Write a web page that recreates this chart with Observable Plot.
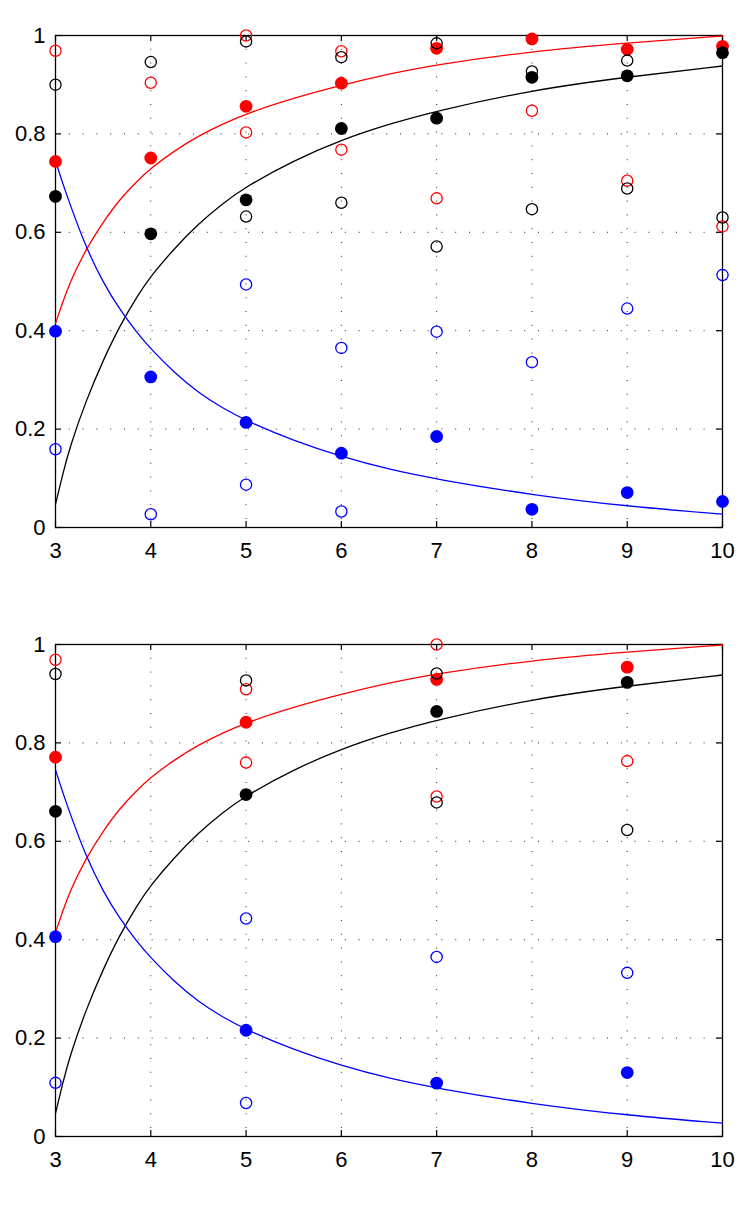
<!DOCTYPE html>
<html>
<head>
<meta charset="utf-8">
<script src="https://cdn.jsdelivr.net/npm/d3@7"></script>
<script src="https://cdn.jsdelivr.net/npm/@observablehq/plot@0.6"></script>
<style>
  html, body { margin: 0; padding: 0; background: #fff; }
  svg { display: block; }
</style>
</head>
<body>
<div id="chart"></div>
<script>
// ---- axes ----
const xTicks = [3, 4, 5, 6, 7, 8, 9, 10];
const yTicks = [0, 0.2, 0.4, 0.6, 0.8, 1];
const yTickLabels = ["0", "0.2", "0.4", "0.6", "0.8", "1"];

// ---- fitted curves ----
const curveX     = [3, 3.08, 3.15, 3.32, 3.5, 3.67, 3.85, 4, 4.25, 4.5, 4.75, 5, 5.5, 6, 6.5, 7, 8, 9, 10];
const redCurve   = [0.415, 0.460, 0.498, 0.566, 0.621, 0.666, 0.703, 0.730, 0.766, 0.796, 0.820, 0.841, 0.873, 0.899, 0.922, 0.941, 0.968, 0.985, 0.999];
const blackCurve = [0.047, 0.112, 0.163, 0.258, 0.340, 0.408, 0.468, 0.511, 0.568, 0.617, 0.658, 0.693, 0.746, 0.788, 0.820, 0.847, 0.889, 0.916, 0.938];
const blueCurve  = [0.745, 0.697, 0.658, 0.569, 0.498, 0.444, 0.397, 0.363, 0.314, 0.274, 0.243, 0.217, 0.176, 0.144, 0.118, 0.098, 0.066, 0.043, 0.027];

// ---- top panel ----
const topFilledX     = [3, 4, 5, 6, 7, 8, 9, 10];
const topRedFilled   = [0.744, 0.751, 0.856, 0.903, 0.974, 0.993, 0.972, 0.978];
const topBlackFilled = [0.673, 0.597, 0.666, 0.811, 0.832, 0.915, 0.918, 0.965];
const topBlueFilled  = [0.399, 0.306, 0.2135, 0.151, 0.185, 0.037, 0.071, 0.053];
const topRedOpenX    = [3, 4, 5, 5, 6, 6, 7, 8, 9, 10];
const topRedOpenY    = [0.969, 0.904, 1.0, 0.803, 0.968, 0.768, 0.669, 0.847, 0.705, 0.612];
const topBlackOpenX  = [3, 4, 5, 5, 6, 6, 7, 7, 8, 8, 9, 9, 10];
const topBlackOpenY  = [0.900, 0.946, 0.988, 0.632, 0.956, 0.660, 0.984, 0.571, 0.927, 0.647, 0.949, 0.689, 0.630];
const topBlueOpenX   = [3, 4, 5, 5, 6, 6, 7, 8, 9, 10];
const topBlueOpenY   = [0.159, 0.027, 0.494, 0.087, 0.365, 0.0325, 0.398, 0.336, 0.445, 0.513];

// ---- bottom panel ----
const botFilledX     = [3, 5, 7, 9];
const botRedFilled   = [0.771, 0.842, 0.929, 0.954];
const botBlackFilled = [0.661, 0.695, 0.864, 0.923];
const botBlueFilled  = [0.406, 0.216, 0.1085, 0.130];
const botRedOpenX    = [3, 5, 5, 7, 7, 9];
const botRedOpenY    = [0.969, 0.909, 0.760, 1.0, 0.691, 0.763];
const botBlackOpenX  = [3, 5, 7, 7, 9];
const botBlackOpenY  = [0.940, 0.927, 0.941, 0.679, 0.623];
const botBlueOpenX   = [3, 5, 5, 7, 9];
const botBlueOpenY   = [0.109, 0.443, 0.068, 0.365, 0.3326];

const RED = "#ff0000", BLACK = "#000000", BLUE = "#0000ff";

const pts = (xs, ys) => xs.map((x, i) => ({x, y: ys[i]}));

function panel(cfg) {
  const W = 747, H = cfg.height, mt = cfg.marginTop, mb = cfg.marginBottom, ml = 55, mr = 25;
  const innerH = H - mt - mb, innerW = W - ml - mr;
  const tick = 6;
  const dotsFilled = (data, c) => Plot.dot(data, {x: "x", y: "y", r: 6.4, fill: c, stroke: "none"});
  const dotsOpen = (data, c) => Plot.dot(data, {x: "x", y: "y", r: 5.6, fill: "none", stroke: c, strokeWidth: 1.3});
  const line = (ys, c) => Plot.line(pts(curveX, ys), {x: "x", y: "y", stroke: c, strokeWidth: 1.3, curve: "basis"});
  return Plot.plot({
    width: W, height: H,
    marginTop: mt, marginBottom: mb, marginLeft: ml, marginRight: mr,
    style: {fontFamily: "'Liberation Sans', Arial, Helvetica, sans-serif", fontSize: "22px", background: "#fff"},
    x: {domain: [3, 10]},
    y: {domain: [0, 1]},
    marks: [
      Plot.gridX(xTicks, {stroke: "#000", strokeOpacity: 0.85, strokeWidth: 1, strokeDasharray: "1,12.8"}),
      Plot.gridY(yTicks, {stroke: "#000", strokeOpacity: 0.85, strokeWidth: 1, strokeDasharray: "1,12.8"}),
      // inward ticks on all four sides
      Plot.tickX(xTicks, {x: d => d, insetTop: innerH - tick, stroke: "#000", strokeWidth: 1.2}),
      Plot.tickX(xTicks, {x: d => d, insetBottom: innerH - tick, stroke: "#000", strokeWidth: 1.2}),
      Plot.tickY(yTicks, {y: d => d, insetRight: innerW - tick, stroke: "#000", strokeWidth: 1.2}),
      Plot.tickY(yTicks, {y: d => d, insetLeft: innerW - tick, stroke: "#000", strokeWidth: 1.2}),
      Plot.frame({stroke: "#000", strokeWidth: 1.3}),
      Plot.axisX({ticks: xTicks, tickSize: 0, tickPadding: 15, fontSize: 22, label: null, tickFormat: d => String(d)}),
      Plot.axisY({ticks: yTicks, tickSize: 0, tickPadding: 10, fontSize: 22, label: null, tickFormat: d => yTickLabels[yTicks.indexOf(d)]}),
      line(redCurve, RED),
      line(blackCurve, BLACK),
      line(blueCurve, BLUE),
      dotsOpen(pts(cfg.redOpenX, cfg.redOpenY), RED),
      dotsFilled(pts(cfg.filledX, cfg.redFilled), RED),
      dotsOpen(pts(cfg.blackOpenX, cfg.blackOpenY), BLACK),
      dotsFilled(pts(cfg.filledX, cfg.blackFilled), BLACK),
      dotsOpen(pts(cfg.blueOpenX, cfg.blueOpenY), BLUE),
      dotsFilled(pts(cfg.filledX, cfg.blueFilled), BLUE)
    ]
  });
}

const root = document.getElementById("chart");
root.appendChild(panel({
  height: 609, marginTop: 35, marginBottom: 82,
  filledX: topFilledX, redFilled: topRedFilled, blackFilled: topBlackFilled, blueFilled: topBlueFilled,
  redOpenX: topRedOpenX, redOpenY: topRedOpenY,
  blackOpenX: topBlackOpenX, blackOpenY: topBlackOpenY,
  blueOpenX: topBlueOpenX, blueOpenY: topBlueOpenY
}));
root.appendChild(panel({
  height: 597, marginTop: 35, marginBottom: 70,
  filledX: botFilledX, redFilled: botRedFilled, blackFilled: botBlackFilled, blueFilled: botBlueFilled,
  redOpenX: botRedOpenX, redOpenY: botRedOpenY,
  blackOpenX: botBlackOpenX, blackOpenY: botBlackOpenY,
  blueOpenX: botBlueOpenX, blueOpenY: botBlueOpenY
}));
</script>
</body>
</html>
